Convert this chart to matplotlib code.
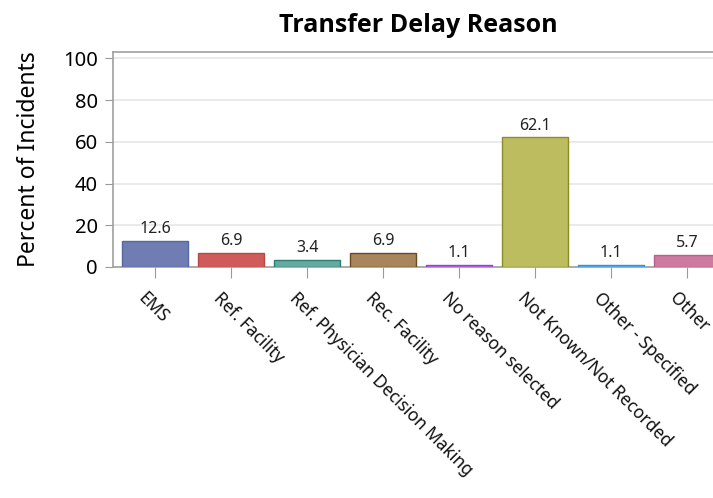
import matplotlib
matplotlib.use("Agg")
import matplotlib.pyplot as plt
from matplotlib.transforms import ScaledTranslation

categories = ["EMS", "Ref. Facility", "Ref. Physician Decision Making", "Rec. Facility",
              "No reason selected", "Not Known/Not Recorded", "Other - Specified", "Other"]
values = [12.6, 6.9, 3.4, 6.9, 1.1, 62.1, 1.1, 5.7]
fill_colors = ["#6f7db3", "#d05b5b", "#66a9a0", "#a9855b", "#b070e8", "#bbbd5f", "#6ab0f0", "#cc7aa0"]
edge_colors = ["#5567a3", "#b84848", "#2d7d70", "#6a4a22", "#9a3fd8", "#8a8c2a", "#2f90e8", "#b8608a"]
yticks = [0, 20, 40, 60, 80, 100]
title = "Transfer Delay Reason"
ylabel = "Percent of Incidents"

plt.rcParams['font.family'] = ['Noto Sans', 'DejaVu Sans']

fig = plt.figure(figsize=(7.13, 4.98), dpi=100)
ax = fig.add_axes([113/713, 1-267/498, 1-113/713, (267-52)/498])

x = list(range(len(categories)))
ax.bar(x, values, width=0.86, color=fill_colors, edgecolor=edge_colors, linewidth=1.0, zorder=3)
for xi, v in zip(x, values):
    ax.text(xi, v + 1.8, f"{v:.1f}", ha='center', va='bottom', fontsize=11.5, color='#222222', zorder=4)

ax.set_xlim(-0.553, 7.34)
ax.set_ylim(0, 103)
ax.set_yticks(yticks)
ax.set_yticklabels([str(t) for t in yticks], fontsize=14.5)
ax.yaxis.grid(True, color='#e6e6e6', linewidth=1.2, zorder=0)
ax.set_axisbelow(True)
ax.set_xticks(x)
ax.set_xticklabels([""] * len(categories))
ax.tick_params(axis='x', length=8, color='#999999')
ax.tick_params(axis='y', length=6, color='#999999', pad=5)

lab_tr = ax.get_xaxis_transform() + ScaledTranslation(-8/100, -22/100, fig.dpi_scale_trans)
for xi, cat in zip(x, categories):
    ax.text(xi, 0, cat, transform=lab_tr, rotation=-45, ha='left', va='top',
            rotation_mode='anchor', fontsize=12.5, color='#111111', clip_on=False)

for side in ['left', 'bottom', 'top']:
    ax.spines[side].set_color('#a0a0a0')
    ax.spines[side].set_linewidth(1.2)
ax.spines['right'].set_visible(False)

ax.set_ylabel(ylabel, fontsize=16.5, labelpad=16)
fig.text(418/713, 1-32/498, title, ha='center', va='baseline', fontsize=18,
         fontweight='bold', family=['Open Sans', 'DejaVu Sans'])

fig.savefig("out.png", dpi=100)
